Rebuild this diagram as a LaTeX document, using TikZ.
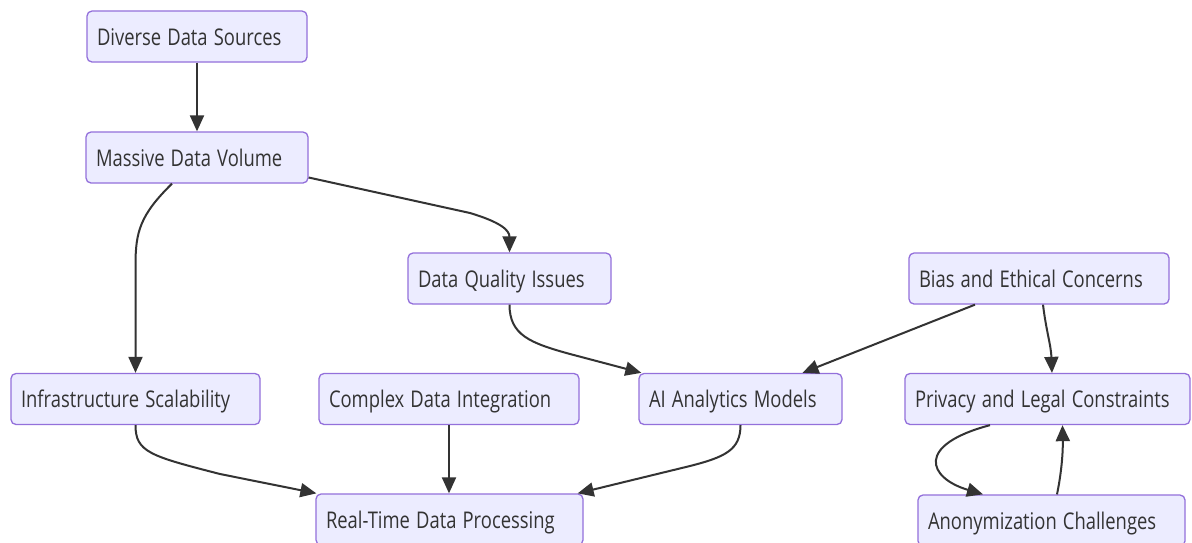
\documentclass[tikz,border=0pt]{standalone}
\usepackage{fontspec}
\setmainfont{Open Sans}
\usetikzlibrary{arrows.meta}
\definecolor{boxfill}{HTML}{ECECFF}
\definecolor{boxline}{HTML}{9370DB}
\definecolor{edgecol}{HTML}{333333}
\definecolor{txtcol}{HTML}{333333}
\newcommand\lbl[1]{\scalebox{0.8}[1]{#1}}
\tikzset{
  box/.style={draw=boxline, fill=boxfill, line width=1.3pt, rounded corners=5pt,
    minimum height=51pt, inner xsep=10pt, inner ysep=0pt, align=left,
    text height=22pt, text depth=5pt, text=txtcol,
    font=\fontsize{23}{27}\selectfont},
  arr/.style={draw=edgecol, line width=2pt, -{Triangle[length=16pt,width=14pt]}}
}
\begin{document}
\begin{tikzpicture}[x=1pt,y=-1pt]
\clip (0,0) rectangle (1192,542);
\fill[white] (0,0) rectangle (1192,542);
\node[box, text width=200pt] (dds) at (197,36.5) {\lbl{Diverse Data Sources}};
\node[box, text width=202pt] (mdv) at (197,157.5) {\lbl{Massive Data Volume}};
\node[box, text width=183pt] (dqi) at (509.5,278.5) {\lbl{Data Quality Issues}};
\node[box, text width=240pt] (bias) at (1039,278.5) {\lbl{Bias and Ethical Concerns}};
\node[box, text width=229pt] (infra) at (135.5,399) {\lbl{Infrastructure Scalability}};
\node[box, text width=240pt] (cdi) at (449,399) {\lbl{Complex Data Integration}};
\node[box, text width=183pt] (ai) at (740.5,399) {\lbl{AI Analytics Models}};
\node[box, text width=265pt] (priv) at (1047.5,399) {\lbl{Privacy and Legal Constraints}};
\node[box, text width=247pt] (rtdp) at (449.5,519.5) {\lbl{Real-Time Data Processing}};
\node[box, text width=247pt] (anon) at (1051.5,520.5) {\lbl{Anonymization Challenges}};

\draw[arr] (dds) -- (mdv);
\draw[arr] ([xshift=-25pt]mdv.south) .. controls (140,215) and (135.5,232) .. (135.5,265) -- (infra.north);
\draw[arr] ([yshift=-20pt]mdv.east) -- (470,213) .. controls (500,222) and (509.5,230) .. (dqi.north);
\draw[arr] (dqi.south) .. controls (509.5,335) and (530,343) .. (570,354) -- ([xshift=3pt]ai.north west);
\draw[arr] ([xshift=-64pt]bias.south) -- ([xshift=62pt]ai.north);
\draw[arr] ([xshift=4pt]bias.south) .. controls (1046,330) and (1051,345) .. ([xshift=4.5pt]priv.north);
\draw[arr] (infra.south) .. controls (135.5,452) and (150,456) .. (220,474) -- ([xshift=1pt]rtdp.north west);
\draw[arr] (cdi.south) -- (cdi.south |- rtdp.north);
\draw[arr] (ai.south) .. controls (740.5,450) and (725,457) .. (690,466) -- ([xshift=-6pt]rtdp.north east);
\draw[arr] ([xshift=-57.5pt]priv.south) .. controls (915,445) and (928,478) .. ([xshift=-68.5pt]anon.north);
\draw[arr] ([xshift=5.5pt]anon.north) .. controls (1062,470) and (1063,450) .. ([xshift=15pt]priv.south);
\end{tikzpicture}
\end{document}
